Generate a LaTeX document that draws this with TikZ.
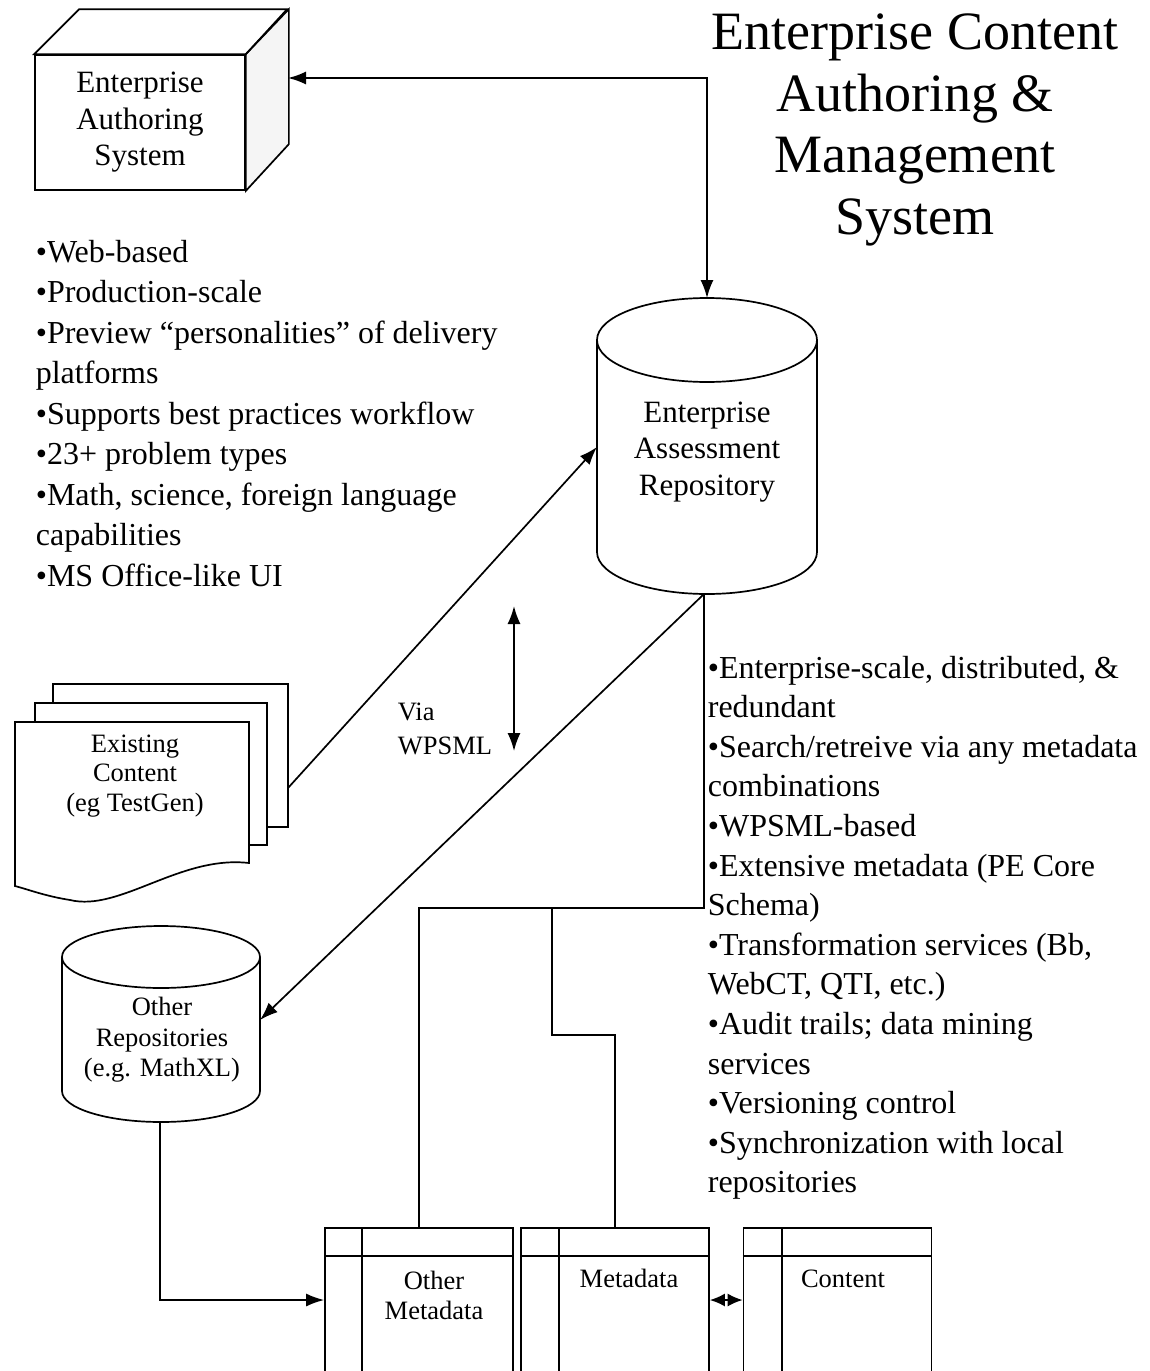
\documentclass[tikz,border=0pt]{standalone}
\usepackage{fontspec}
\setmainfont{Liberation Serif}
\usetikzlibrary{arrows.meta}
\begin{document}
\begin{tikzpicture}[x=1pt,y=-1pt,line width=1.7pt,
  tipend/.style={-{Latex[length=18pt,width=13pt]}},
  tipboth/.style={{Latex[length=18pt,width=13pt]}-{Latex[length=18pt,width=13pt]}},
  tipsmall/.style={{Latex[length=15pt,width=13pt]}-{Latex[length=15pt,width=13pt]}},
  lbl/.style={font=\fontsize{31}{36.5}\selectfont,align=center,inner sep=0pt},
  small/.style={font=\fontsize{26.5}{29.5}\selectfont,align=center,inner sep=0pt},
  bul/.style={font=\fontsize{32}{40}\selectfont,anchor=base west,inner sep=0pt},
  titlef/.style={font=\fontsize{54}{61.7}\selectfont,align=center,inner sep=0pt},
  tablebox/.style={draw,fill=white,minimum width=188pt,minimum height=146pt,inner sep=0pt}]
\useasboundingbox (0,0) rectangle (1150,1371);

% ---------- Title ----------
\node[titlef] (title) at (915,130) {Enterprise Content\\Authoring \&\\Management\\System};

% ---------- Enterprise Authoring System (3D box) ----------
\node[draw,minimum width=210pt,minimum height=135pt,lbl] (auth) at (140,122.5) {Enterprise\\Authoring\\System};
\draw[fill=black!4] (auth.north east) -- ++(43,-45) -- ++(0,135) -- (auth.south east) -- cycle;
\draw (auth.north west) -- ++(45,-45) -- ++(208,0) -- (auth.north east) -- cycle;
\coordinate (authR) at (288,78);

% ---------- Enterprise Assessment Repository (cylinder) ----------
\draw[fill=white] (597,340) -- (597,552) arc[start angle=180,end angle=0,x radius=110,y radius=42] -- (817,340);
\draw (707,340) ellipse [x radius=110,y radius=42];
\node[lbl] (ear) at (707,452) {Enterprise\\Assessment\\Repository};
\coordinate (earTop) at (707,298);
\coordinate (earBot) at (704,594);
\coordinate (earL) at (597,447);

% ---------- left bullet list ----------
\node[bul] (l1) at (35,262) {•Web-based};
\node[bul] (l2) at (35,302.5) {•Production-scale};
\node[bul] (l3) at (35,343) {•Preview “personalities” of delivery};
\node[bul] (l4) at (35,383.5) {platforms};
\node[bul] (l5) at (35,424) {•Supports best practices workflow};
\node[bul] (l6) at (35,464.5) {•23+ problem types};
\node[bul] (l7) at (35,505) {•Math, science, foreign language};
\node[bul] (l8) at (35,545.5) {capabilities};
\node[bul] (l9) at (35,586) {•MS Office-like UI};

% ---------- right bullet list ----------
\node[bul] (r1) at (707,678) {•Enterprise-scale, distributed, \&};
\node[bul] (r2) at (707,717.6) {redundant};
\node[bul] (r3) at (707,757.2) {•Search/retreive via any metadata};
\node[bul] (r4) at (707,796.8) {combinations};
\node[bul] (r5) at (707,836.4) {•WPSML-based};
\node[bul] (r6) at (707,876) {•Extensive metadata (PE Core};
\node[bul] (r7) at (707,915.6) {Schema)};
\node[bul] (r8) at (707,955.2) {•Transformation services (Bb,};
\node[bul] (r9) at (707,994.8) {WebCT, QTI, etc.)};
\node[bul] (r10) at (707,1034.4) {•Audit trails; data mining};
\node[bul] (r11) at (707,1074) {services};
\node[bul] (r12) at (707,1113.6) {•Versioning control};
\node[bul] (r13) at (707,1153.2) {•Synchronization with local};
\node[bul] (r14) at (707,1192.8) {repositories};

% ---------- Existing content (stacked documents) ----------
\draw[fill=white] (53,684) rectangle (288,827);
\draw[fill=white] (35,703) rectangle (267,845);
\draw[fill=white] (15,722) -- (249,722) -- (249,863)
  .. controls (180,855) and (120,912) .. (70,900)
  .. controls (45,896) and (30,890) .. (15,886) -- cycle;
\node[small] (exist) at (135,776) {Existing\\Content\\(eg TestGen)};
\coordinate (docR) at (288,788);

% ---------- Other Repositories (cylinder) ----------
\draw[fill=white] (62,957) -- (62,1091) arc[start angle=180,end angle=0,x radius=99,y radius=31] -- (260,957);
\draw (161,957) ellipse [x radius=99,y radius=31];
\node[small,font=\fontsize{26.5}{30.5}\selectfont] (orep) at (162,1040) {Other\\Repositories\\(e.g. MathXL)};
\coordinate (orepR) at (260,1020);
\coordinate (orepB) at (160,1122);

% ---------- Via WPSML ----------
\node[small,align=left,anchor=west,font=\fontsize{26.5}{34}\selectfont] (via) at (397,729) {Via\\WPSML};
\coordinate (via1) at (514,606);
\coordinate (via2) at (514,751);

% ---------- bottom tables ----------
\node[tablebox] (om) at (419,1301) {};
\node[tablebox] (md) at (615,1301) {};
\node[tablebox] (ct) at (837.5,1301) {};
\foreach \b/\ix in {om/362,md/559,ct/782}{
  \draw (\b.north west |- 0,1256) -- (\b.north east |- 0,1256);
  \draw (\ix,1228) -- (\ix,1380);
}
\node[small,font=\fontsize{26.5}{30}\selectfont] (omt) at (434,1295) {Other\\Metadata};
\node[small,anchor=base] (mdt) at (629,1287) {Metadata};
\node[small,anchor=base] (ctt) at (843,1287) {Content};

% ---------- connectors ----------
\draw[tipboth] (earTop) -- (707,78) -- (authR);
\draw[tipend] (docR) -- (earL);
\draw[tipend] (earBot) -- (orepR);
\draw[tipboth] (via1) -- (via2);
\coordinate (j1) at (704,908);
\coordinate (j2) at (552,908);
\draw (earBot) -- (j1) -- (om.north |- j1) -- (om.north);
\draw (j2) -- (552,1035) -- (md.north |- 0,1035) -- (md.north);
\draw[tipend] (orepB) -- (160,1300) -- (om.west |- 0,1300);
\draw[tipsmall] (md.east |- 0,1300) -- (ct.west |- 0,1300);
\end{tikzpicture}
\end{document}
